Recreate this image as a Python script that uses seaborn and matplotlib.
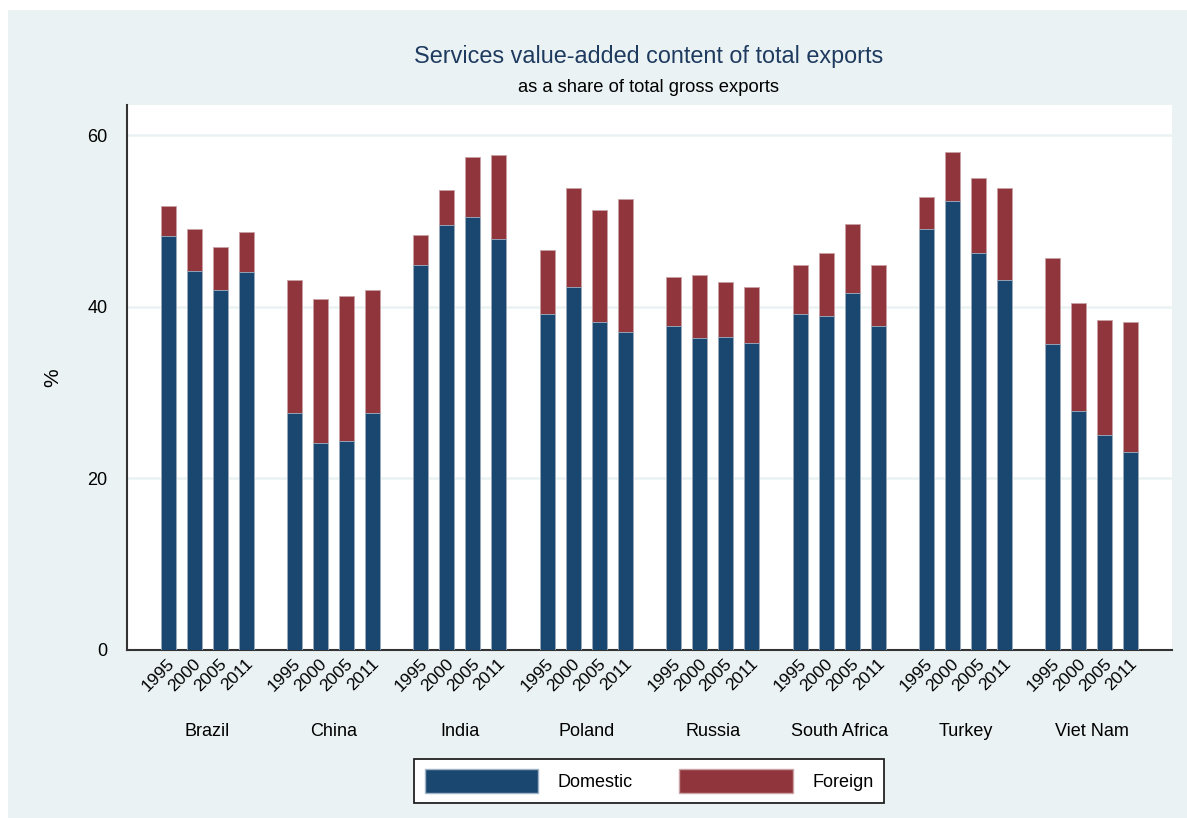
import matplotlib
matplotlib.use('Agg')
import matplotlib.pyplot as plt
import matplotlib.transforms as mtransforms
from matplotlib.patches import Patch, Rectangle
import seaborn as sns
import pandas as pd

countries = ["Brazil", "China", "India", "Poland", "Russia", "South Africa", "Turkey", "Viet Nam"]
years = ["1995", "2000", "2005", "2011"]

# domestic and foreign services value-added, % of gross exports
domestic = [
    [48.2, 44.2, 42.0, 44.1],
    [27.6, 24.1, 24.3, 27.6],
    [44.8, 49.5, 50.4, 47.9],
    [39.2, 42.3, 38.2, 37.1],
    [37.8, 36.3, 36.5, 35.8],
    [39.2, 38.9, 41.6, 37.8],
    [49.1, 52.3, 46.2, 43.1],
    [35.7, 27.8, 25.0, 23.1],
]
foreign = [
    [3.5, 4.9, 5.0, 4.6],
    [15.5, 16.8, 16.9, 14.3],
    [3.6, 4.1, 7.0, 9.8],
    [7.4, 11.5, 13.1, 15.4],
    [5.7, 7.4, 6.4, 6.5],
    [5.7, 7.3, 8.0, 7.1],
    [3.7, 5.7, 8.8, 10.7],
    [10.0, 12.6, 13.5, 15.1],
]

DOM_COL = "#1a476f"
FOR_COL = "#90353b"
BG = "#eaf2f3"
GAP = 0.86

rows = []
for g, c in enumerate(countries):
    for i, yr in enumerate(years):
        d = domestic[g][i]
        f = foreign[g][i]
        rows.append({"country": c, "year": yr, "pos": g * (4 + GAP) + i,
                     "domestic": d, "foreign": f, "total": d + f})
df = pd.DataFrame(rows)

sns.set_style("white")
plt.rcParams['font.family'] = ['Liberation Sans', 'DejaVu Sans']
plt.rcParams['text.color'] = 'black'
plt.rcParams['axes.labelcolor'] = 'black'
plt.rcParams['xtick.color'] = 'black'
plt.rcParams['ytick.color'] = 'black'

fig = plt.figure(figsize=(11.87, 8.18), dpi=100, facecolor="white")
fig.patches.append(Rectangle((8 / 1187, 0), 1, 1 - 10 / 818, transform=fig.transFigure,
                             facecolor=BG, edgecolor="none", zorder=-10))
ax = fig.add_axes([127 / 1187, 1 - 650 / 818, (1172 - 127) / 1187, (650 - 105) / 818])
ax.set_facecolor("white")

sns.barplot(data=df, x="pos", y="total", native_scale=True, color=FOR_COL, width=0.58,
            saturation=1, edgecolor="#c9a2a5", linewidth=0.6, ax=ax, zorder=2)
sns.barplot(data=df, x="pos", y="domestic", native_scale=True, color=DOM_COL, width=0.58,
            saturation=1, edgecolor="#9fb3c6", linewidth=0.6, ax=ax, zorder=3)

ax.set_xlim(-1.58, 7 * (4 + GAP) + 3 + 1.58)
ax.set_ylim(0, 63.5)
ax.set_yticks([0, 20, 40, 60])
ax.tick_params(axis="y", length=8, width=1.3, color="#333333", labelcolor="black",
               pad=6, labelsize=13)
ax.yaxis.grid(True, color=BG, linewidth=1.8, zorder=0)
ax.set_axisbelow(True)

ax.set_xticks(df["pos"])
ax.set_xticklabels(df["year"], rotation=45, ha="right", va="center", rotation_mode="anchor",
                   fontsize=12.5, color="black")
ax.tick_params(axis="x", length=0, pad=8)
for lab in ax.get_xticklabels():
    lab.set_transform(lab.get_transform() + mtransforms.ScaledTranslation(4 / 100, 0, fig.dpi_scale_trans))

trans = mtransforms.blended_transform_factory(ax.transData, ax.transAxes)
for g, c in enumerate(countries):
    ax.text(g * (4 + GAP) + 1.5, (650 - 731) / 545, c, transform=trans,
            ha="center", va="center", fontsize=13, color="black")

ax.set_xlabel("")
ax.set_ylabel("%", fontsize=15, color="black")
ax.yaxis.set_label_coords((62 - 127) / 1045, 0.5)

for s in ["top", "right"]:
    ax.spines[s].set_visible(False)
for s in ["left", "bottom"]:
    ax.spines[s].set_color("#333333")
    ax.spines[s].set_linewidth(1.5)

fig.text(649 / 1187, 1 - 57 / 818, "Services value-added content of total exports",
         ha="center", va="center", fontsize=16.8, color="#1e3a5f")
fig.text(649 / 1187, 1 - 88 / 818, "as a share of total gross exports",
         ha="center", va="center", fontsize=13.2, color="black")

handles = [Patch(facecolor=DOM_COL, edgecolor="#9fb3c6", label="Domestic"),
           Patch(facecolor=FOR_COL, edgecolor="#c9a2a5", label="Foreign")]
leg = fig.legend(handles=handles, loc="center", bbox_to_anchor=(649 / 1187, 1 - 781 / 818),
                 ncol=2, fontsize=13, handlelength=6.3, handleheight=1.6, handletextpad=1.05,
                 columnspacing=2.6, borderpad=0.6, fancybox=False, framealpha=1)
leg.get_frame().set_edgecolor("#222222")
leg.get_frame().set_linewidth(1.3)

fig.savefig("out.png", dpi=100, facecolor=fig.get_facecolor())
